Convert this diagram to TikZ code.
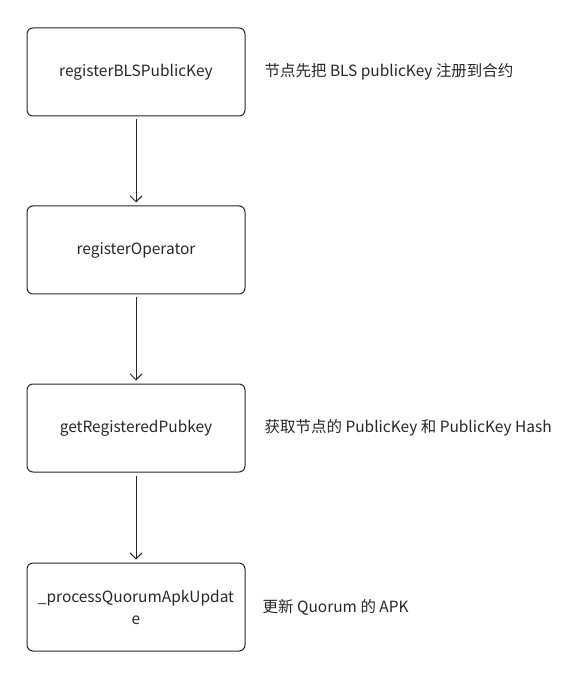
\documentclass[tikz,border=0pt]{standalone}
\usepackage{fontspec}
\setmainfont{Noto Sans CJK SC}
\usetikzlibrary{arrows.meta}
\tikzset{
  stepbox/.style={shape=rectangle, draw=black!85, rounded corners=4.5pt, line width=0.75pt,
    minimum width=163.5pt, minimum height=66pt, align=center, font=\fontsize{11.6}{16.5}\selectfont, text=black!85},
  note/.style={anchor=west, font=\fontsize{11.6}{16.5}\selectfont, text=black!85},
  flow/.style={-{Straight Barb[length=4.5pt,width=9pt]}, draw=black!85, line width=0.75pt, shorten <=2.25pt, shorten >=2.25pt}
}
\begin{document}
\begin{tikzpicture}[x=0.75pt, y=-0.75pt]
\useasboundingbox (0,0) rectangle (585,680);
\node[stepbox](A) at (136,72) {registerBLSPublicKey};
\node[stepbox](B) at (136,250) {registerOperator};
\node[stepbox](C) at (136,428) {getRegisteredPubkey};
\node[stepbox](D) at (136,607) {\_processQuorumApkUpdat\\e};

\node[note](nA) at (260,72) {节点先把 BLS publicKey 注册到合约};
\node[note](nC) at (260,428) {获取节点的 PublicKey 和 PublicKey Hash};
\node[note](nD) at (258,607) {更新 Quorum 的 APK};

\draw[flow] (A) -- (B);
\draw[flow] (B) -- (C);
\draw[flow] (C) -- (D);
\end{tikzpicture}
\end{document}
